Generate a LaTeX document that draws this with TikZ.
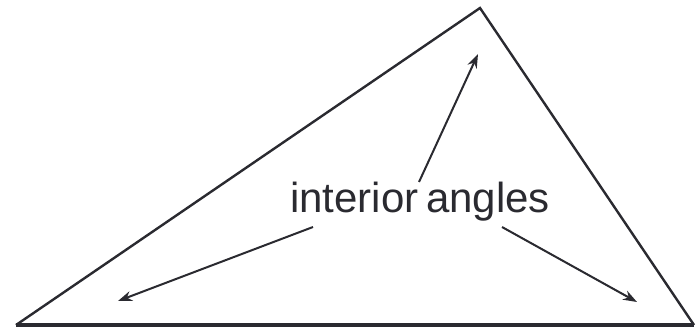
\documentclass[tikz,border=0pt]{standalone}
\usepackage{fontspec}
\setmainfont{Liberation Sans}
\usetikzlibrary{arrows.meta}
\definecolor{ink}{HTML}{2A2A30}
\begin{document}
\begin{tikzpicture}[x=1pt,y=-1pt,
  edge/.style={draw=ink,line width=2.4pt,line join=miter},
  pointer/.style={draw=ink,line width=2pt,-{Stealth[length=14pt,width=10pt]}}]
\useasboundingbox (0,0) rectangle (698,329);
\coordinate (L) at (16,325);
\coordinate (T) at (480,8);
\coordinate (R) at (694,325);
\draw[edge] (L) -- (T) -- (R);
\draw[draw=ink,line width=3.2pt] (L) -- (R);
\node[anchor=base,inner sep=0pt,text=ink,font=\fontsize{42}{42}\selectfont] (lab) at (420,212) {interior\hspace{0.18em}angles};
\coordinate (s1) at (419,182);
\coordinate (e1) at (478,54);
\coordinate (s2) at (313,227);
\coordinate (e2) at (118,301);
\coordinate (s3) at (502,227);
\coordinate (e3) at (637,302);
\draw[pointer] (s1) -- (e1);
\draw[pointer] (s2) -- (e2);
\draw[pointer] (s3) -- (e3);
\end{tikzpicture}
\end{document}
